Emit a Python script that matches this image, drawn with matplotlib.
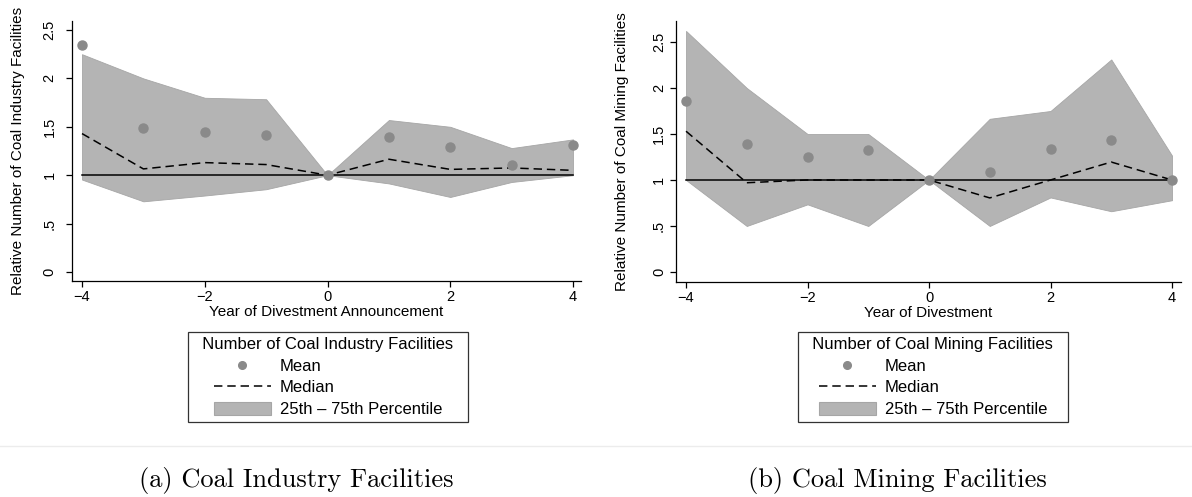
import matplotlib
matplotlib.use("Agg")
import matplotlib.pyplot as plt
from matplotlib.lines import Line2D
from matplotlib.patches import Patch

plt.rcParams['font.family'] = ['Liberation Sans', 'DejaVu Sans']

years = [-4, -3, -2, -1, 0, 1, 2, 3, 4]

# Panel (a): Coal Industry Facilities
ind_mean = [2.34, 1.49, 1.45, 1.42, 1.00, 1.39, 1.29, 1.11, 1.31]
ind_median = [1.43, 1.065, 1.13, 1.11, 1.00, 1.165, 1.06, 1.075, 1.05]
ind_p75 = [2.25, 2.00, 1.80, 1.785, 1.00, 1.57, 1.50, 1.28, 1.37]
ind_p25 = [0.955, 0.73, 0.79, 0.855, 1.00, 0.915, 0.775, 0.93, 1.00]

# Panel (b): Coal Mining Facilities
min_mean = [1.86, 1.39, 1.245, 1.33, 1.00, 1.085, 1.34, 1.43, 1.00]
min_median = [1.53, 0.97, 1.00, 1.00, 1.00, 0.805, 1.00, 1.195, 1.00]
min_p75 = [2.62, 2.00, 1.50, 1.50, 1.00, 1.665, 1.75, 2.31, 1.265]
min_p25 = [1.00, 0.50, 0.735, 0.50, 1.00, 0.50, 0.81, 0.66, 0.78]

ytick_vals = [0, 0.5, 1, 1.5, 2, 2.5]
ytick_labels = ['0', '.5', '1', '1.5', '2', '2.5']
xtick_vals = [-4, -2, 0, 2, 4]
xtick_labels = ['\u22124', '\u22122', '0', '2', '4']

FILL = '#b4b4b4'
FILL_EDGE = '#a6a6a6'
MEAN_C = '#8a8a8a'
DASH = (0, (5.5, 3.2))

W, H = 1192, 497
fig = plt.figure(figsize=(W / 100, H / 100), dpi=100)


def px_axes(x0, y0, x1, y1):
    return fig.add_axes([x0 / W, 1 - y1 / H, (x1 - x0) / W, (y1 - y0) / H])


def panel(ax, mean, median, p25, p75, xlim, ylim, xlabel, ylabel, ypad, ylab_x):
    ax.fill_between(years, p25, p75, facecolor=FILL, edgecolor=FILL_EDGE, linewidth=0.6, zorder=1)
    ax.plot([years[0], years[-1]], [1, 1], color='black', lw=1.1, zorder=2)
    ax.plot(years, median, color='black', lw=1.1, linestyle=DASH, zorder=3)
    ax.plot(years, mean, linestyle='none', marker='o', ms=6.5, color=MEAN_C, mec=MEAN_C, zorder=4)
    ax.set_xlim(*xlim)
    ax.set_ylim(*ylim)
    ax.spines['top'].set_visible(False)
    ax.spines['right'].set_visible(False)
    for s in ('left', 'bottom'):
        ax.spines[s].set_linewidth(0.9)
    ax.set_xticks(xtick_vals)
    ax.set_xticklabels(xtick_labels, fontsize=10.5)
    ax.set_yticks(ytick_vals)
    ax.set_yticklabels(ytick_labels, fontsize=10.5, rotation=90, va='center')
    ax.tick_params(axis='both', length=4.2, width=0.9, direction='out')
    ax.tick_params(axis='x', pad=2.5)
    ax.tick_params(axis='y', pad=ypad)
    ax.set_xlabel(xlabel, fontsize=11, labelpad=0.5)
    ax.set_ylabel(ylabel, fontsize=11)
    ax.yaxis.set_label_coords(ylab_x, 0.5)


ax1 = px_axes(72, 21, 581, 281)
panel(ax1, ind_mean, ind_median, ind_p25, ind_p75, (-4.163, 4.13), (-0.093, 2.593),
      'Year of Divestment Announcement', 'Relative Number of Coal Industry Facilities',
      7.0, (25 - 72) / 509)

ax2 = px_axes(676, 21, 1181, 282)
panel(ax2, min_mean, min_median, min_p25, min_p75, (-4.165, 4.148), (-0.109, 2.728),
      'Year of Divestment', 'Relative Number of Coal Mining Facilities',
      3.0, (629 - 676) / 505)


def make_legend(title, cx):
    handles = [
        Line2D([], [], linestyle='none', marker='o', ms=5.5, color=MEAN_C),
        Line2D([], [], color='black', lw=1.1, linestyle=DASH),
        Patch(facecolor=FILL, edgecolor=FILL_EDGE, linewidth=0.8),
    ]
    labels = ['Mean', 'Median', '25th \u2013 75th Percentile']
    leg = fig.legend(handles, labels, title='  ' + title + '  ', loc='upper center',
                     bbox_to_anchor=(cx / W, 1 - 332 / H), bbox_transform=fig.transFigure,
                     fontsize=12, title_fontsize=12, frameon=True, fancybox=False,
                     handlelength=3.4, handleheight=0.85, handletextpad=0.55,
                     labelspacing=0.38, borderpad=0.3, borderaxespad=0,
                     alignment='center')
    fr = leg.get_frame()
    fr.set_edgecolor('black')
    fr.set_linewidth(0.9)
    return leg


make_legend('Number of Coal Industry Facilities', 328)
make_legend('Number of Coal Mining Facilities', 933)

fig.add_artist(Line2D([0, 1], [1 - 445.5 / H, 1 - 445.5 / H], transform=fig.transFigure,
                      color='#ececec', lw=1.0))

fig.text(296 / W, 1 - 480 / H, '(a) Coal Industry Facilities', fontfamily='cmr10',
         fontsize=19, ha='center', va='center')
fig.text(897 / W, 1 - 480 / H, '(b) Coal Mining Facilities', fontfamily='cmr10',
         fontsize=19, ha='center', va='center')

fig.savefig('out.png', dpi=100, facecolor='white')
